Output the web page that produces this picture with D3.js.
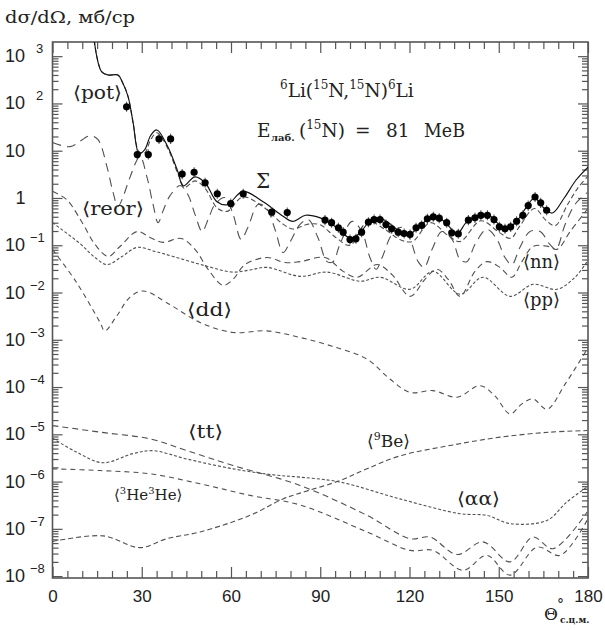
<!DOCTYPE html>
<html><head><meta charset="utf-8">
<script src="https://cdnjs.cloudflare.com/ajax/libs/d3/7.8.5/d3.min.js"></script>
<style>body{margin:0;background:#fff}svg{display:block}</style>
</head><body>
<svg id="chart" width="605" height="630"></svg>
<script>
// ---------------- data ----------------
const xMajorTicks = [0, 30, 60, 90, 120, 150, 180];
const yExponents = [3, 2, 1, 0, -1, -2, -3, -4, -5, -6, -7, -8];

const sigmaTheta = [14,16.5,18.7,22,23.5,25.4,27.1,29.1,31,33,35.1,38.8,42.2,43.9,47.9,51.3,55.3,58.7,64,70.8,77.5,80.8,85,90,94,97,100,103,107,110,113,117,120,123,127,130,133,136,139,143,147,150,153,156,159,162,165,168,172,176,180];
const sigmaVal = [2200,470,400,400,280,140,39,8.7,10.5,21,27.5,12,3.5,1.8,2.8,2.1,0.83,0.72,1.38,0.83,0.41,0.32,0.43,0.38,0.28,0.19,0.145,0.174,0.34,0.37,0.30,0.19,0.17,0.24,0.38,0.38,0.26,0.174,0.30,0.43,0.42,0.28,0.23,0.32,0.60,1.0,0.63,0.48,1.0,2.4,4.5];

const potTheta = [14,16.5,18.7,22,23.5,25.4,27.1,29.1,31,33,35.1,38.8,42.2,44.5,47.9,51.3,55.3,58.7,64,70.8,77.5,80.8,86,90,95,100,106,112,117,121,127,133,137,144,150,154,157,162,166,169,173,176.5,180];
const potVal = [2200,470,400,400,280,140,39,9.5,9.0,17,24,11,3.2,1.7,2.3,1.6,0.62,0.52,1.05,0.65,0.28,0.22,0.28,0.27,0.15,0.10,0.32,0.21,0.13,0.12,0.30,0.16,0.12,0.33,0.19,0.14,0.25,0.60,0.33,0.26,0.7,1.6,2.9];

const reorTheta = [0,5.9,12.6,15.3,18.3,20.3,22,24,26,29.4,31.8,33.8,35.5,37.1,39.5,42.9,45.5,47.9,50.3,52.3,54.6,58,60.7,63.4,65.7,69.1,71.8,74.8,77.5,79.8,83.2,85.9,89.2,92.3,94.3,96.6,100.7,104,106.7,108.8,110.8,114.1,117.5,120.2,122.9,124.9,127.6,130.9,134.3,137,139.3,142,146,149.4,152.1,154.4,157.1,160.5,163.9,167.2,169.2,172.3,175.6,179.7];
const reorVal = [15,12.2,20.7,17.1,4.6,1.36,0.66,1.18,2.7,7.5,2.7,0.73,0.30,0.52,1.12,1.83,1.18,0.45,0.195,0.35,0.73,1.02,0.45,0.133,0.24,0.73,0.63,0.216,0.070,0.115,0.275,0.35,0.146,0.045,0.045,0.104,0.32,0.195,0.055,0.031,0.055,0.169,0.24,0.133,0.045,0.034,0.082,0.195,0.133,0.050,0.045,0.104,0.216,0.133,0.055,0.039,0.090,0.195,0.195,0.104,0.082,0.275,0.73,1.30];

const nnTheta = [0,4.8,10,14.3,18.7,22.7,28.4,32.8,37.1,43.2,47.9,52.3,57.3,60.7,64.7,72.1,78.2,83.2,91.6,97.7,102.4,109.1,114.1,120.2,125.2,129.2,133,137,142,146,150.4,154.4,157.8,161.5,166.2,169.6,174,179.7];
const nnVal = [1.38,0.92,0.30,0.104,0.058,0.094,0.195,0.146,0.115,0.139,0.082,0.031,0.0142,0.019,0.039,0.055,0.043,0.045,0.055,0.028,0.021,0.039,0.024,0.0083,0.019,0.031,0.019,0.0083,0.028,0.045,0.034,0.021,0.045,0.094,0.096,0.082,0.195,0.57];

const ppTheta = [0,9.2,14.3,18.3,23.4,28.4,34.5,40.5,51.9,60.7,66.4,72.1,83.2,92.3,103.4,110.1,120.2,127.9,137,144.7,153.8,161.5,169.6,175.6,179.7];
const ppVal = [0.30,0.109,0.055,0.039,0.058,0.090,0.074,0.058,0.036,0.027,0.030,0.034,0.022,0.027,0.0173,0.021,0.0117,0.028,0.0092,0.021,0.0083,0.0149,0.0117,0.021,0.045];

const ddTheta = [0,8.1,16,17.6,21.6,26,30.5,38.4,49.6,60.7,72,83.2,94,105.7,113.4,120.2,127.9,136,143.7,148.7,153.8,157.8,161.5,166.2,172.3,179.7];
const ddVal = [0.082,0.0162,0.00232,0.00154,0.0032,0.0079,0.0108,0.0061,0.00232,0.00143,0.00154,0.00112,7.3e-4,3.9e-4,1.48e-4,7.7e-5,8.4e-5,6.1e-5,1.07e-4,6.5e-5,2.7e-5,4.4e-5,5.6e-5,3.4e-5,1.15e-4,6.3e-4];

const ttTheta = [0,16,32.8,45.2,60.7,83.2,105.7,120.2,126.9,136,144.7,153.8,161.5,168.2,179.7];
const ttVal = [1.53e-5,1.11e-5,8.0e-6,4.5e-6,2.19e-6,8.3e-7,1.93e-7,6.2e-8,6.7e-8,2.86e-8,5.3e-8,2.0e-8,6.7e-8,3.8e-8,2.27e-7];

const aaTheta = [0,8.1,17,27,33.8,45.2,60.7,74.1,83.2,96.6,116.8,137,146,153.8,166.2,172.9,179.7];
const aaVal = [8.3e-6,4.2e-6,2.5e-6,3.9e-6,4.5e-6,3.0e-6,1.86e-6,1.39e-6,1.24e-6,9.8e-7,4.3e-7,2.09e-7,1.93e-7,1.29e-7,1.51e-7,3.7e-7,7.7e-7];

const heTheta = [0,16,32.8,49.6,66.4,83.2,105.7,120.2,127.9,138,146,153.8,162.9,170.6,179.7];
const heVal = [1.86e-6,1.71e-6,1.46e-6,9.0e-7,5.1e-7,3.2e-7,8.6e-8,3.5e-8,3.5e-8,1.33e-8,2.75e-8,1.05e-8,4.1e-8,2.75e-8,1.51e-7];

const beTheta = [0,17,29.4,38.5,49.6,66.4,77.5,83.2,96.6,105.7,116.8,133.6,150.4,167.2,179.7];
const beVal = [5.4e-8,7.1e-8,4.0e-8,6.2e-8,8.6e-8,1.93e-7,4.3e-7,5.7e-7,1.05e-6,1.86e-6,3.5e-6,5.8e-6,8.7e-6,1.11e-5,1.2e-5];

const dataTheta = [24.9,28.5,32.2,35.8,39.7,43.6,47.6,51.3,55.4,59.9,64.1,73.7,78.9,91.6,93.8,96.1,97.7,100.0,102.0,103.9,106.2,108.1,110.1,112.1,114.0,116.2,118.2,120.2,122.2,124.1,126.0,128.0,130.0,132.5,134.2,136.4,139.8,142.0,144.0,146.2,148.4,150.2,152.1,154.0,156.0,158.1,159.9,162.2,164.1,166.1];
const dataVal = [85,8.3,8.3,17.8,17.8,3.2,3.5,2.1,1.23,0.76,1.23,0.50,0.49,0.34,0.30,0.234,0.189,0.132,0.137,0.189,0.307,0.35,0.35,0.275,0.223,0.189,0.177,0.169,0.234,0.262,0.362,0.40,0.373,0.30,0.184,0.175,0.339,0.38,0.43,0.43,0.35,0.245,0.223,0.245,0.322,0.43,0.69,1.05,0.79,0.55];
const dataErrFactor = 1.28;

// ---------------- chart ----------------
const svg = d3.select('#chart');
const M = {l: 52.5, r: 588, t: 42, b: 578};
const x = d3.scaleLinear().domain([0, 180]).range([M.l, M.r]);
const y = d3.scaleLog().domain([Math.pow(10, -8.04), Math.pow(10, 3.3)]).range([M.b, M.t]);

const serif = '"DejaVu Serif", serif';
const sans = '"Liberation Sans", Arial, sans-serif';
const axisColor = '#555';

svg.append('defs').append('clipPath').attr('id', 'clip')
  .append('rect').attr('x', M.l).attr('y', M.t).attr('width', M.r - M.l).attr('height', M.b - M.t);

// ticks
const xMinor = d3.range(0, 181, 5).filter(v => !xMajorTicks.includes(v));
const yMajor = yExponents.map(e => Math.pow(10, e));
const yMinor = [];
for (let e = -9; e <= 3; e++) for (let k = 2; k <= 9; k++) {
  const v = k * Math.pow(10, e);
  if (v >= y.domain()[0] && v <= y.domain()[1]) yMinor.push(v);
}
function styleAxis(g) {
  g.select('.domain').remove();
  g.selectAll('.tick line').attr('stroke', axisColor).attr('stroke-width', 1.2);
}
svg.append('g').attr('transform', `translate(0,${M.b})`)
  .call(d3.axisBottom(x).tickValues(xMinor).tickSizeInner(-7).tickSizeOuter(0).tickFormat(''))
  .call(styleAxis);
svg.append('g').attr('transform', `translate(0,${M.b})`)
  .call(d3.axisBottom(x).tickValues(xMajorTicks).tickSizeInner(-11).tickSizeOuter(0).tickPadding(12).tickFormat(d3.format('d')))
  .call(styleAxis)
  .call(g => g.selectAll('.tick text').attr('font-family', sans).attr('font-size', 17).attr('fill', '#222'));
svg.append('g').attr('transform', `translate(0,${M.t})`)
  .call(d3.axisTop(x).tickValues(xMinor).tickSizeInner(-7).tickSizeOuter(0).tickFormat(''))
  .call(styleAxis);
svg.append('g').attr('transform', `translate(0,${M.t})`)
  .call(d3.axisTop(x).tickValues(xMajorTicks).tickSizeInner(-11).tickSizeOuter(0).tickFormat(''))
  .call(styleAxis);
svg.append('g').attr('transform', `translate(${M.l},0)`)
  .call(d3.axisLeft(y).tickValues(yMinor).tickSizeInner(-6).tickSizeOuter(0).tickFormat(''))
  .call(styleAxis);
svg.append('g').attr('transform', `translate(${M.l},0)`)
  .call(d3.axisLeft(y).tickValues(yMajor).tickSizeInner(-10).tickSizeOuter(0).tickFormat(''))
  .call(styleAxis);
svg.append('g').attr('transform', `translate(${M.r},0)`)
  .call(d3.axisRight(y).tickValues(yMinor).tickSizeInner(-6).tickSizeOuter(0).tickFormat(''))
  .call(styleAxis);
svg.append('g').attr('transform', `translate(${M.r},0)`)
  .call(d3.axisRight(y).tickValues(yMajor).tickSizeInner(-10).tickSizeOuter(0).tickFormat(''))
  .call(styleAxis);

// frame
svg.append('rect').attr('x', M.l).attr('y', M.t).attr('width', M.r - M.l).attr('height', M.b - M.t)
  .attr('fill', 'none').attr('stroke', axisColor).attr('stroke-width', 1.6);

// y tick labels
const yl = svg.append('g').attr('font-family', sans).attr('fill', '#222');
yExponents.forEach(e => {
  const yy = y(Math.pow(10, e));
  if (e === 0) {
    yl.append('text').attr('x', 20.5).attr('y', yy + 6).attr('text-anchor', 'middle').attr('font-size', 18).text('1');
  } else if (e === 1) {
    yl.append('text').attr('x', 5).attr('y', yy + 6).attr('font-size', 18).text('10');
  } else {
    yl.append('text').attr('x', 5).attr('y', yy + 6).attr('font-size', 18).text('10');
    yl.append('text').attr('x', e < 0 ? 30 : 36).attr('y', yy - 3).attr('font-size', 13)
      .text(e < 0 ? '\u2212' + (-e) : String(e));
  }
});

// curves
const series = [
  {t: reorTheta, v: reorVal, dash: '9,6', w: 1.1, c: '#505050'},
  {t: nnTheta, v: nnVal, dash: '6,4', w: 1.1, c: '#505050'},
  {t: ppTheta, v: ppVal, dash: '3,2', w: 1.1, c: '#505050'},
  {t: ddTheta, v: ddVal, dash: '5,4', w: 1.1, c: '#505050'},
  {t: ttTheta, v: ttVal, dash: '6,4', w: 1.1, c: '#505050'},
  {t: aaTheta, v: aaVal, dash: '3,2', w: 1.1, c: '#505050'},
  {t: heTheta, v: heVal, dash: '5,4', w: 1.1, c: '#505050'},
  {t: beTheta, v: beVal, dash: '5,3', w: 1.1, c: '#505050'},
  {t: potTheta, v: potVal, dash: '5,3', w: 1.1, c: '#505050'},
  {t: sigmaTheta, v: sigmaVal, dash: null, w: 1.15, c: '#111'}
];
const line = d3.line().x(d => x(d[0])).y(d => y(d[1])).curve(d3.curveCatmullRom.alpha(0.5));
const cg = svg.append('g').attr('clip-path', 'url(#clip)');
series.forEach(s => {
  cg.append('path').datum(s.t.map((t, i) => [t, s.v[i]]))
    .attr('d', line).attr('fill', 'none').attr('stroke', s.c).attr('stroke-width', s.w)
    .attr('stroke-dasharray', s.dash);
});

// data points
const pts = dataTheta.map((t, i) => [t, dataVal[i]]);
cg.selectAll('line.err').data(pts).enter().append('line')
  .attr('x1', d => x(d[0])).attr('x2', d => x(d[0]))
  .attr('y1', d => y(d[1] * dataErrFactor)).attr('y2', d => y(d[1] / dataErrFactor))
  .attr('stroke', '#555').attr('stroke-width', 1.1);
cg.selectAll('circle').data(pts).enter().append('circle')
  .attr('cx', d => x(d[0])).attr('cy', d => y(d[1])).attr('r', 3.6).attr('fill', '#000');

// annotations
const ann = svg.append('g').attr('font-family', serif).attr('fill', '#222');
function label(txt, xx, yy, fs, len) {
  const t = ann.append('text').attr('x', xx).attr('y', yy).attr('font-size', fs).text(txt);
  if (len) t.attr('textLength', len).attr('lengthAdjust', 'spacingAndGlyphs');
  return t;
}
label('d\u03C3/d\u03A9, \u043C\u0431/\u0441\u0440', 5, 23, 16, 130);
label('\u27E8pot\u27E9', 73, 99, 18, 49);
label('\u27E8reor\u27E9', 82, 215, 18, 62);
label('\u27E8dd\u27E9', 187, 316, 18, 45);
label('\u27E8nn\u27E9', 523, 268, 18, 37);
label('\u27E8pp\u27E9', 523, 306, 18, 37);
label('\u27E8tt\u27E9', 188, 438, 18, 35);
label('\u27E8\u03B1\u03B1\u27E9', 457, 505, 18, 43);
label('\u03A3', 256, 188, 20);

// <9Be>
{
  const t = ann.append('text').attr('x', 367).attr('y', 447).attr('font-size', 17);
  t.append('tspan').text('\u27E8');
  t.append('tspan').attr('font-size', 11).attr('dy', -7).text('9');
  t.append('tspan').attr('dy', 7).text('Be\u27E9');
}
// <3He3He>
{
  const t = ann.append('text').attr('x', 114).attr('y', 500).attr('font-size', 15);
  t.append('tspan').text('\u27E8');
  t.append('tspan').attr('font-size', 10).attr('dy', -6).text('3');
  t.append('tspan').attr('dy', 6).text('He');
  t.append('tspan').attr('font-size', 10).attr('dy', -6).text('3');
  t.append('tspan').attr('dy', 6).text('He\u27E9');
}
// reaction
{
  const t = ann.append('text').attr('x', 280).attr('y', 97).attr('font-size', 18.5);
  const parts = [['6', 1], ['Li(', 0], ['15', 1], ['N,', 0], ['15', 1], ['N)', 0], ['6', 1], ['Li', 0]];
  let up = false;
  parts.forEach(([s, sup]) => {
    const ts = t.append('tspan').text(s);
    if (sup) { ts.attr('font-size', 12).attr('dy', up ? 0 : -8); up = true; }
    else { ts.attr('dy', up ? 8 : 0); up = false; }
  });
}
// energy line
{
  label('E', 257, 137, 18.5);
  ann.append('text').attr('x', 271).attr('y', 141).attr('font-size', 10).attr('font-weight', 'bold')
    .text('\u043B\u0430\u0431.');
  const t = ann.append('text').attr('x', 299).attr('y', 137).attr('font-size', 18.5);
  t.append('tspan').text('(');
  t.append('tspan').attr('font-size', 12).attr('dy', -8).text('15');
  t.append('tspan').attr('dy', 8).text('N)');
  label('=', 355, 137, 18.5);
  label('81', 386, 137, 18.5);
  label('\u041C\u0435\u0412', 424, 137, 18.5, 41);
}
// x axis title
{
  label('\u0398', 544, 620, 17);
  label('\u00B0', 557, 609, 14);
  ann.append('text').attr('x', 560).attr('y', 623).attr('font-size', 9).attr('font-weight', 'bold')
    .text('\u0441.\u0446.\u043C.');
}
</script>
</body></html>
